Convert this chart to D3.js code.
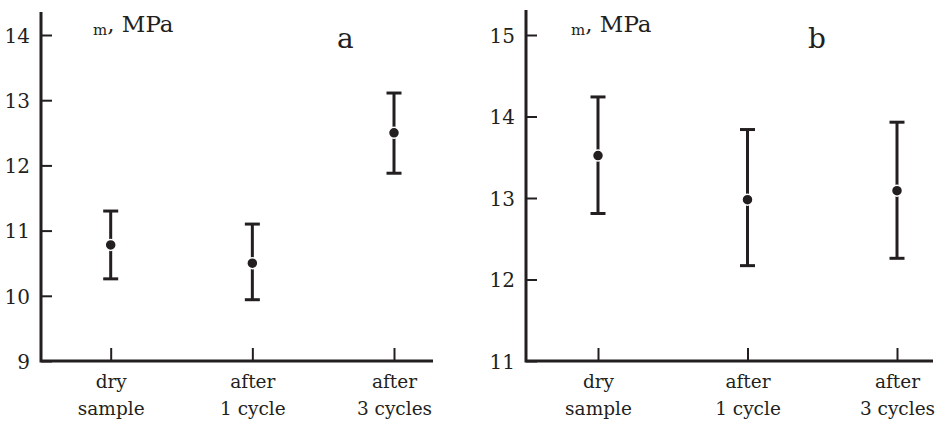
<!DOCTYPE html>
<html><head><meta charset="utf-8">
<script src="https://cdn.jsdelivr.net/npm/d3@7"></script>
<style>
html,body{margin:0;padding:0;background:#fff;}
</style></head>
<body><svg id="chart" width="943" height="422"></svg>
<script>
const categories = ["dry|sample", "after|1 cycle", "after|3 cycles"];
const meanA = [10.78, 10.50, 12.50];
const upperA = [11.30, 11.10, 13.11];
const lowerA = [10.26, 9.94, 11.88];
const ticksA = [9, 10, 11, 12, 13, 14];
const meanB = [13.52, 12.98, 13.09];
const upperB = [14.24, 13.84, 13.93];
const lowerB = [12.81, 12.17, 12.26];
const ticksB = [11, 12, 13, 14, 15];
const INK = "#231f20";
const FONT = "'DejaVu Serif', serif";

const svg = d3.select("#chart");

function panel(o) {
  const g = svg.append("g");
  const y = d3.scaleLinear().domain(o.domain).range([361, 35]);
  const x = d3.scalePoint().domain(categories).range(o.xRange);

  const ya = g.append("g").attr("transform", `translate(${o.x0},0)`)
    .call(d3.axisLeft(y).tickValues(o.ticks).tickSize(-11).tickPadding(11).tickFormat(d3.format("d")));
  ya.attr("font-family", null);
  ya.select(".domain").remove();
  ya.selectAll(".tick line").attr("stroke", INK).attr("stroke-width", 2);
  ya.selectAll(".tick text").attr("fill", INK).style("font-family", FONT).style("font-size", "20px").attr("dy", "0.36em");

  const xa = g.append("g").attr("transform", "translate(0,361)")
    .call(d3.axisBottom(x).tickSize(-13).tickPadding(0).tickFormat(""));
  xa.attr("font-family", null);
  xa.select(".domain").remove();
  xa.selectAll(".tick line").attr("stroke", INK).attr("stroke-width", 2);
  xa.selectAll(".tick text").each(function(d) {
    const t = d3.select(this).attr("fill", INK).style("font-family", FONT).style("font-size", "18.5px")
      .attr("y", 0).attr("dy", null);
    const parts = d.split("|");
    t.text(null);
    parts.forEach((p, i) => t.append("tspan").attr("x", 0).attr("y", 27 + i * 27).text(p));
  });

  g.append("path")
    .attr("d", `M${o.x0},${o.yTop}V361H${o.xEnd}`)
    .attr("fill", "none").attr("stroke", INK).attr("stroke-width", 3);

  const data = categories.map((c, i) => ({c, m: o.mean[i], u: o.upper[i], l: o.lower[i]}));
  const eb = g.append("g").selectAll("g").data(data).join("g");
  eb.append("line").attr("x1", d => x(d.c)).attr("x2", d => x(d.c))
    .attr("y1", d => y(d.u)).attr("y2", d => y(d.l))
    .attr("stroke", INK).attr("stroke-width", 3);
  eb.append("line").attr("x1", d => x(d.c) - 7.5).attr("x2", d => x(d.c) + 7.5)
    .attr("y1", d => y(d.u)).attr("y2", d => y(d.u))
    .attr("stroke", INK).attr("stroke-width", 3);
  eb.append("line").attr("x1", d => x(d.c) - 7.5).attr("x2", d => x(d.c) + 7.5)
    .attr("y1", d => y(d.l)).attr("y2", d => y(d.l))
    .attr("stroke", INK).attr("stroke-width", 3);
  eb.append("circle").attr("cx", d => x(d.c)).attr("cy", d => y(d.m)).attr("r", 5.5)
    .attr("fill", INK).attr("stroke", "#fff").attr("stroke-width", 1.5);

  const ul = g.append("text").attr("x", o.unitX).attr("y", 32).attr("fill", INK).style("font-family", FONT);
  ul.append("tspan").style("font-size", "15px").attr("dy", 3).text("m");
  ul.append("tspan").style("font-size", "23px").attr("dy", -3).text(", MPa");

  g.append("text").attr("x", o.letterX).attr("y", 48).attr("fill", INK).style("font-family", FONT)
    .style("font-size", "28px").text(o.letter);
}

panel({domain: [9, 14], ticks: ticksA, mean: meanA, upper: upperA, lower: lowerA,
  x0: 41, yTop: 12, xEnd: 433, xRange: [110.7, 394], unitX: 93, letter: "a", letterX: 337});
panel({domain: [11, 15], ticks: ticksB, mean: meanB, upper: upperB, lower: lowerB,
  x0: 526, yTop: 10, xEnd: 933, xRange: [598, 897], unitX: 571, letter: "b", letterX: 808});
</script></body></html>
